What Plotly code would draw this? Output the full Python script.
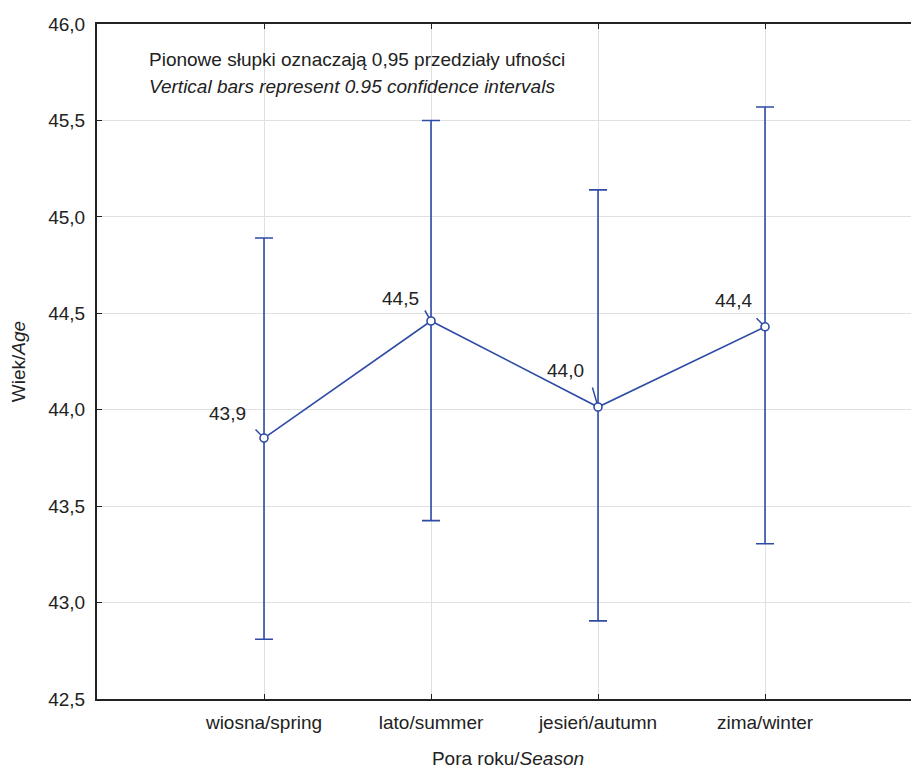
import plotly.graph_objects as go

categories = ["wiosna/spring", "lato/summer", "jesień/autumn", "zima/winter"]
means = [43.853, 44.46, 44.014, 44.43]
upper = [44.89, 45.50, 45.14, 45.57]
lower = [42.81, 43.425, 42.905, 43.305]
labels = ["43,9", "44,5", "44,0", "44,4"]
y_ticks = [42.5, 43.0, 43.5, 44.0, 44.5, 45.0, 45.5, 46.0]

BLUE = "#2E4BA6"
FONT = "Liberation Sans, Arial, sans-serif"
TXT = "#222222"

# label placement (pixel offsets of text and leader lines relative to each point)
text_dx = [-37, -31, -33, -32]
text_dy = [25, 23, 37, 26]
lead_ax = [-10, -7, -6, -10]
lead_ay = [-10, -12, -21, -10]

xs = list(range(len(categories)))
fig = go.Figure()
fig.add_trace(go.Scatter(
    x=xs, y=means, mode="lines+markers",
    line=dict(color=BLUE, width=1.6),
    marker=dict(symbol="circle", size=8, color="white", line=dict(width=1.6, color=BLUE)),
    error_y=dict(type="data", symmetric=False,
                 array=[u - m for u, m in zip(upper, means)],
                 arrayminus=[m - l for m, l in zip(means, lower)],
                 color=BLUE, thickness=1.6, width=9),
    showlegend=False,
))

for i, (x, m, t) in enumerate(zip(xs, means, labels)):
    fig.add_annotation(x=x, y=m, text=t, showarrow=False,
                       xshift=text_dx[i], yshift=text_dy[i],
                       font=dict(size=19, color=TXT, family=FONT))
    fig.add_annotation(x=x, y=m, text="", showarrow=True, arrowhead=0,
                       arrowwidth=1.5, arrowcolor=BLUE,
                       ax=lead_ax[i], ay=lead_ay[i], standoff=4)

fig.add_annotation(xref="paper", yref="paper", x=0.061, y=0.9467, xanchor="left", yanchor="middle",
                   showarrow=False,
                   text="Pionowe słupki oznaczają 0,95 przedziały ufności",
                   font=dict(size=19, color=TXT, family=FONT))
fig.add_annotation(xref="paper", yref="paper", x=0.061, y=0.9067, xanchor="left", yanchor="middle",
                   showarrow=False,
                   text="<i>Vertical bars represent 0.95 confidence intervals</i>",
                   font=dict(size=19, color=TXT, family=FONT))

fig.update_layout(
    width=911, height=761,
    margin=dict(l=89, r=0, t=16, b=70),
    plot_bgcolor="white", paper_bgcolor="white",
    separators=",.",
    font=dict(family=FONT, size=19, color=TXT),
    xaxis=dict(range=[-1, 3.922], tickvals=xs, ticktext=categories,
               showgrid=True, gridcolor="#E0E0E0", gridwidth=1,
               showline=True, linecolor="#222", linewidth=2, mirror="ticks",
               ticks="inside", ticklen=5, tickcolor="#222", zeroline=False,
               ticklabelstandoff=5,
               title=dict(text="Pora roku/<i>Season</i>", font=dict(size=19), standoff=20),
               tickfont=dict(size=19)),
    yaxis=dict(range=[42.5, 46.0], tickvals=y_ticks, tickformat=".1f",
               showgrid=True, gridcolor="#E0E0E0", gridwidth=1,
               showline=True, linecolor="#222", linewidth=2, mirror=False,
               ticks="inside", ticklen=5, tickcolor="#222", zeroline=False,
               ticklabelstandoff=6,
               title=dict(text="Wiek/<i>Age</i>", font=dict(size=19), standoff=18),
               tickfont=dict(size=19)),
)

fig.write_html("out.html")
